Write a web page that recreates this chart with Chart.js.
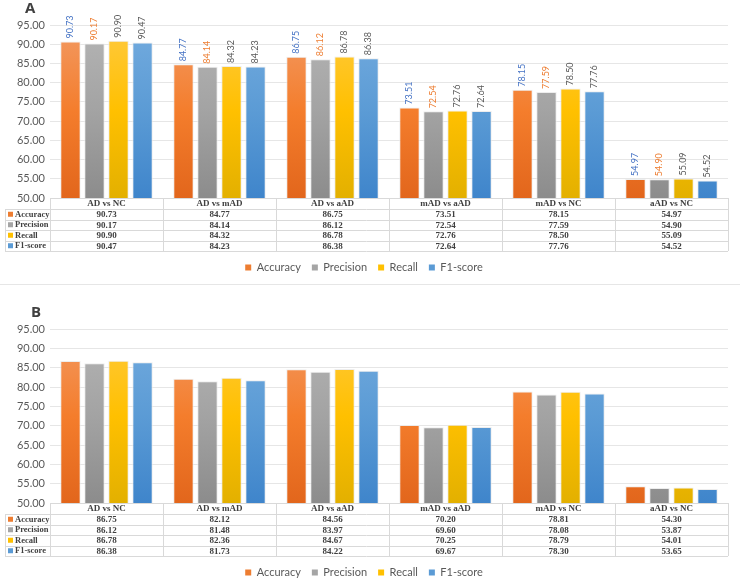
<!DOCTYPE html>
<html>
<head>
<meta charset="utf-8">
<script src="https://cdn.jsdelivr.net/npm/chart.js@4.4.1/dist/chart.umd.min.js"></script>
<style>
body{margin:0;background:#fff;overflow:hidden;width:740px;height:579px;position:relative}
.box{position:absolute;left:0;width:740px}
</style>
</head>
<body>
<div class="box" style="top:0;height:290px"><canvas id="chartA"></canvas></div>
<div class="box" style="top:290px;height:300px"><canvas id="chartB"></canvas></div>
<script>
// comparisons
var categories = ['AD vs NC', 'AD vs mAD', 'AD vs aAD', 'mAD vs aAD', 'mAD vs NC', 'aAD vs NC']
var metrics = ['Accuracy', 'Precision', 'Recall', 'F1-score']
var yTicks = [50, 55, 60, 65, 70, 75, 80, 85, 90, 95]

// panel A
var accuracyA  = [90.73, 84.77, 86.75, 73.51, 78.15, 54.97]
var precisionA = [90.17, 84.14, 86.12, 72.54, 77.59, 54.90]
var recallA    = [90.90, 84.32, 86.78, 72.76, 78.50, 55.09]
var f1A        = [90.47, 84.23, 86.38, 72.64, 77.76, 54.52]

// panel B
var accuracyB  = [86.75, 82.12, 84.56, 70.20, 78.81, 54.30]
var precisionB = [86.12, 81.48, 83.97, 69.60, 78.08, 53.87]
var recallB    = [86.78, 82.36, 84.67, 70.25, 78.79, 54.01]
var f1B        = [86.38, 81.73, 84.22, 69.67, 78.30, 53.65]

var flatColors = ['#ED7D31', '#A5A5A5', '#FFC000', '#5B9BD5']
var gradStops = [
  ['#F29A63', '#F47D2C', '#E2661C'],
  ['#B4B4B4', '#A3A3A3', '#8C8C8C'],
  ['#FFC93F', '#FFC000', '#E3B000'],
  ['#73ABDE', '#5B9BD5', '#3F85CB']
]
var labelColors = ['#4472C4', '#ED7D31', '#595959', '#595959']

function barFill(i){
  return function(c){
    var area = c.chart.chartArea
    if(!area) return flatColors[i]
    var g = c.chart.ctx.createLinearGradient(0, area.top, 0, area.bottom)
    g.addColorStop(0, gradStops[i][0])
    g.addColorStop(0.5, gradStops[i][1])
    g.addColorStop(1, gradStops[i][2])
    return g
  }
}

var tablePlugin = {
  id: 'dataTable',
  afterDraw(chart, args, opts){
    var ctx = chart.ctx
    var x = chart.scales.x
    var area = chart.chartArea
    var n = chart.data.labels.length
    var colW = (x.right - x.left) / n
    var top = area.bottom
    var headH = 11, rowH = 10.5
    var bottom = top + headH + rowH * 4
    ctx.save()

    // value labels over bars
    if(opts.showValues){
      ctx.font = '9px Lato'
      ctx.textAlign = 'left'
      ctx.textBaseline = 'middle'
      chart.data.datasets.forEach(function(ds, i){
        var meta = chart.getDatasetMeta(i)
        meta.data.forEach(function(bar, j){
          ctx.save()
          ctx.translate(bar.x, bar.y - 3)
          ctx.rotate(-Math.PI / 2)
          ctx.fillStyle = labelColors[i]
          ctx.fillText(ds.data[j].toFixed(2), 0, 0)
          ctx.restore()
        })
      })
    }

    // grid of the table
    ctx.strokeStyle = '#d9d9d9'
    ctx.lineWidth = 1
    ctx.beginPath()
    ctx.moveTo(x.left, Math.round(top) + 0.5); ctx.lineTo(x.right, Math.round(top) + 0.5)
    for(var r = 0; r <= 4; r++){
      var yy = Math.round(top + headH + rowH * r) + 0.5
      ctx.moveTo(5, yy); ctx.lineTo(x.right, yy)
    }
    for(var c = 0; c <= n; c++){
      var xx = Math.round(x.left + colW * c) + 0.5
      ctx.moveTo(xx, top); ctx.lineTo(xx, bottom)
    }
    ctx.moveTo(5.5, top + headH); ctx.lineTo(5.5, bottom)
    ctx.stroke()

    ctx.font = 'bold 9px "Liberation Serif"'
    ctx.textBaseline = 'middle'
    ctx.textAlign = 'center'
    ctx.fillStyle = '#404040'
    for(var c = 0; c < n; c++){
      ctx.fillText(chart.data.labels[c], x.left + colW * (c + 0.5), top + headH / 2 + 0.5)
    }
    chart.data.datasets.forEach(function(ds, i){
      var cy = top + headH + rowH * (i + 0.5) + 0.5
      ctx.fillStyle = flatColors[i]
      ctx.fillRect(8, cy - 3, 5, 5)
      ctx.fillStyle = '#404040'
      ctx.textAlign = 'left'
      ctx.font = 'bold 8.5px "Liberation Serif"'
      ctx.fillText(ds.label, 15, cy)
      ctx.font = 'bold 9px "Liberation Serif"'
      ctx.textAlign = 'center'
      for(var c = 0; c < n; c++){
        ctx.fillText(ds.data[c].toFixed(2), x.left + colW * (c + 0.5), cy)
      }
    })

    // panel letter
    ctx.font = 'bold 15px "Open Sans"'
    ctx.fillStyle = '#404040'
    ctx.textAlign = 'left'
    ctx.fillText(opts.letter, opts.letterX, opts.letterY)

    if(opts.separator){
      ctx.strokeStyle = '#e6e6e6'
      ctx.beginPath()
      ctx.moveTo(0, opts.separator + 0.5); ctx.lineTo(chart.width, opts.separator + 0.5)
      ctx.stroke()
    }
    ctx.restore()
  }
}

function makeChart(id, acc, prec, rec, f1, opts){
  var series = [acc, prec, rec, f1]
  return new Chart(document.getElementById(id), {
    type: 'bar',
    data: {
      labels: categories,
      datasets: series.map(function(s, i){
        return {
          label: metrics[i],
          data: s,
          backgroundColor: barFill(i),
          borderColor: 'rgba(235,235,235,0.9)',
          borderWidth: 1,
          barPercentage: 0.85,
          categoryPercentage: 0.85
        }
      })
    },
    options: {
      responsive: true,
      maintainAspectRatio: false,
      animation: false,
      layout: {padding: {top: opts.top, right: 12, left: 0, bottom: opts.bottom}},
      scales: {
        x: {
          grid: {display: false},
          border: {display: false},
          ticks: {display: false},
          afterFit: function(s){ s.height = 53 }
        },
        y: {
          min: 50,
          max: 95,
          afterBuildTicks: function(s){ s.ticks = yTicks.map(function(v){ return {value: v} }) },
          afterFit: function(s){ s.width = 50 },
          grid: {color: '#e6e6e6', drawTicks: false},
          border: {display: false},
          ticks: {
            padding: 5,
            color: '#595959',
            font: {family: 'Lato', size: 11},
            callback: function(v){ return Number(v).toFixed(2) }
          }
        }
      },
      plugins: {
        tooltip: {enabled: false},
        legend: {
          position: 'bottom',
          labels: {
            boxWidth: 6,
            boxHeight: 6,
            padding: 11,
            color: '#595959',
            font: {family: 'Lato', size: 11},
            generateLabels: function(chart){
              return chart.data.datasets.map(function(ds, i){
                return {text: ds.label, fillStyle: flatColors[i], strokeStyle: flatColors[i], lineWidth: 0, datasetIndex: i, fontColor: '#595959'}
              })
            }
          }
        },
        dataTable: {letter: opts.letter, letterX: opts.letterX, letterY: opts.letterY, showValues: opts.showValues, separator: opts.separator}
      }
    },
    plugins: [tablePlugin]
  })
}

makeChart('chartA', accuracyA, precisionA, recallA, f1A, {top: 25, bottom: 7, letter: 'A', letterX: 25, letterY: 9, showValues: true, separator: 284})
makeChart('chartB', accuracyB, precisionB, recallB, f1B, {top: 39, bottom: 2, letter: 'B', letterX: 31, letterY: 23, showValues: false})
</script>
</body>
</html>
